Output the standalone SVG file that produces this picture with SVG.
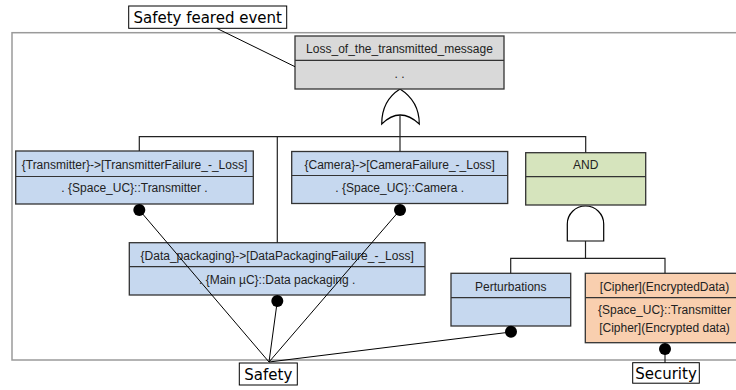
<svg xmlns="http://www.w3.org/2000/svg" width="736" height="390" viewBox="0 0 736 390">
<style>
.frame{fill:none;stroke:#9a9a9a;stroke-width:1.5}
.node{stroke:#333;stroke-width:1.3}
.blue{fill:#c6d8ef}
.gray{fill:#d9d9d9}
.green{fill:#d6e4bd}
.peach{fill:#f9cfaf}
.div{stroke:#333;stroke-width:1.2}
.t{font-family:"Liberation Sans",Arial,sans-serif;font-size:12px;fill:#222;text-anchor:middle}
.lbl{font-family:"DejaVu Sans",sans-serif;font-size:15px;fill:#000;text-anchor:middle}
.lbox{fill:#fff;stroke:#000;stroke-width:1}
.conn{fill:none;stroke:#222;stroke-width:1.2}
.thin{fill:none;stroke:#000;stroke-width:1}
.gate{fill:#fff;stroke:#000;stroke-width:1.2}
.dot{fill:#000}
</style>
<rect class="frame" x="12" y="32.7" width="740" height="327.3"/>
<g id="or_gate">
  <path class="gate" d="M381.7,124 C381.7,108 389,96 400,89 C411,96 419.3,108 419.3,124 Q400,106 381.7,124 Z"/>
</g>
<g id="and_gate">
  <path class="gate" d="M567.3,241 V224 A18.2,18 0 0 1 603.7,224 V241 Z"/>
</g>
<g id="node_loss">
  <rect class="node gray" x="295" y="36" width="209" height="53"/>
  <line class="div" x1="295" y1="60.3" x2="504" y2="60.3"/>
  <text class="t" x="399.5" y="53.3">Loss_of_the_transmitted_message</text>
  <text class="t" x="399.5" y="78">. .</text>
</g>
<g id="node_transmitter">
  <rect class="node blue" x="15.7" y="151" width="237.6" height="53"/>
  <line class="div" x1="15.7" y1="176.5" x2="253.3" y2="176.5"/>
  <text class="t" x="134.5" y="169.3">{Transmitter}-&gt;[TransmitterFailure_-_Loss]</text>
  <text class="t" x="134.5" y="192.3">. {Space_UC}::Transmitter .</text>
  <circle class="dot" cx="139.3" cy="210" r="6"/>
</g>
<g id="node_camera">
  <rect class="node blue" x="291.7" y="151.5" width="216" height="52"/>
  <line class="div" x1="291.7" y1="175.5" x2="507.7" y2="175.5"/>
  <text class="t" x="399.7" y="168.5">{Camera}-&gt;[CameraFailure_-_Loss]</text>
  <text class="t" x="399.7" y="192">. {Space_UC}::Camera .</text>
  <circle class="dot" cx="400" cy="210" r="6"/>
</g>
<g id="node_and">
  <rect class="node green" x="525.7" y="152.7" width="120" height="52.3"/>
  <line class="div" x1="525.7" y1="176.7" x2="645.7" y2="176.7"/>
  <text class="t" x="585.7" y="169.3">AND</text>
</g>
<g id="node_datapackaging">
  <rect class="node blue" x="129.3" y="242.7" width="295.7" height="52.3"/>
  <line class="div" x1="129.3" y1="266.7" x2="425" y2="266.7"/>
  <text class="t" x="277.2" y="260">{Data_packaging}-&gt;[DataPackagingFailure_-_Loss]</text>
  <text class="t" x="277.2" y="284.3">. {Main µC}::Data packaging .</text>
  <circle class="dot" cx="277.3" cy="301" r="6"/>
</g>
<g id="node_perturbations">
  <rect class="node blue" x="451" y="273.3" width="119.7" height="52.7"/>
  <line class="div" x1="451" y1="297.7" x2="570.7" y2="297.7"/>
  <text class="t" x="510.8" y="291">Perturbations</text>
  <circle class="dot" cx="511" cy="331.7" r="6"/>
</g>
<g id="node_cipher">
  <rect class="node peach" x="585.3" y="273.3" width="160" height="69.4"/>
  <line class="div" x1="585.3" y1="297.7" x2="745.3" y2="297.7"/>
  <text class="t" x="664.5" y="291">[Cipher](EncryptedData)</text>
  <text class="t" x="664.5" y="313.5">{Space_UC}::Transmitter</text>
  <text class="t" x="664.5" y="331.5">[Cipher](Encrypted data)</text>
  <circle class="dot" cx="665" cy="349" r="6"/>
</g>
<g id="connectors">
  <line class="thin" x1="216.7" y1="28.3" x2="295" y2="66.7"/>
  <path class="conn" d="M400,115 V151.5"/>
  <path class="conn" d="M139.3,151 V136.7 H585.7 V152.7"/>
  <path class="conn" d="M277.3,136.7 V242.7"/>
  <path class="conn" d="M585.5,241 V258.3"/>
  <path class="conn" d="M510.7,273.3 V258.3 H665 V273.3"/>
  <line class="thin" x1="139.3" y1="210" x2="269" y2="362"/>
  <line class="thin" x1="277.3" y1="301" x2="269" y2="362"/>
  <line class="thin" x1="400" y1="210" x2="269" y2="362"/>
  <line class="thin" x1="511" y1="332" x2="269" y2="362"/>
  <line class="thin" x1="665" y1="349" x2="665" y2="363"/>
</g>
<g id="label_feared">
  <rect class="lbox" x="128.7" y="6" width="158" height="22.3"/>
  <text class="lbl" x="207.7" y="22.5">Safety feared event</text>
</g>
<g id="label_safety">
  <rect class="lbox" x="239.3" y="363" width="58" height="22"/>
  <text class="lbl" x="268.3" y="379.5">Safety</text>
</g>
<g id="label_security">
  <rect class="lbox" x="632.7" y="362.7" width="66.6" height="20.5"/>
  <text class="lbl" x="666" y="378.5">Security</text>
</g>
</svg>
